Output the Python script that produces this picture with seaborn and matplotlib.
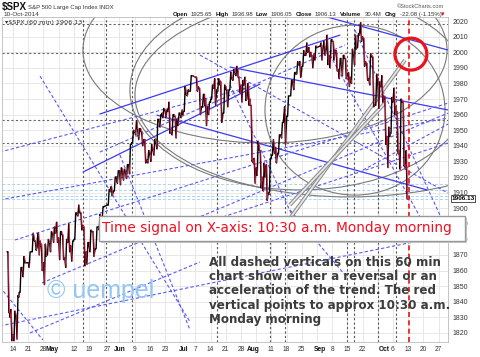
import datetime as dt
import matplotlib
matplotlib.use("Agg")
import matplotlib.pyplot as plt
import numpy as np
import pandas as pd
import seaborn as sns
from matplotlib.patches import Ellipse, Rectangle

sns.set_theme(style="white")
plt.rcParams['font.family'] = ['Liberation Sans', 'DejaVu Sans']

# ---------------- data (daily OHLC of $SPX) ----------------
dates = ["2014-04-10","2014-04-11","2014-04-14","2014-04-15","2014-04-16","2014-04-17",
 "2014-04-21","2014-04-22","2014-04-23","2014-04-24","2014-04-25","2014-04-28","2014-04-29",
 "2014-04-30","2014-05-01","2014-05-02","2014-05-05","2014-05-06","2014-05-07","2014-05-08",
 "2014-05-09","2014-05-12","2014-05-13","2014-05-14","2014-05-15","2014-05-16","2014-05-19",
 "2014-05-20","2014-05-21","2014-05-22","2014-05-23","2014-05-27","2014-05-28","2014-05-29",
 "2014-05-30","2014-06-02","2014-06-03","2014-06-04","2014-06-05","2014-06-06","2014-06-09",
 "2014-06-10","2014-06-11","2014-06-12","2014-06-13","2014-06-16","2014-06-17","2014-06-18",
 "2014-06-19","2014-06-20","2014-06-23","2014-06-24","2014-06-25","2014-06-26","2014-06-27",
 "2014-06-30","2014-07-01","2014-07-02","2014-07-03","2014-07-07","2014-07-08","2014-07-09",
 "2014-07-10","2014-07-11","2014-07-14","2014-07-15","2014-07-16","2014-07-17","2014-07-18",
 "2014-07-21","2014-07-22","2014-07-23","2014-07-24","2014-07-25","2014-07-28","2014-07-29",
 "2014-07-30","2014-07-31","2014-08-01","2014-08-04","2014-08-05","2014-08-06","2014-08-07",
 "2014-08-08","2014-08-11","2014-08-12","2014-08-13","2014-08-14","2014-08-15","2014-08-18",
 "2014-08-19","2014-08-20","2014-08-21","2014-08-22","2014-08-25","2014-08-26","2014-08-27",
 "2014-08-28","2014-08-29","2014-09-02","2014-09-03","2014-09-04","2014-09-05","2014-09-08",
 "2014-09-09","2014-09-10","2014-09-11","2014-09-12","2014-09-15","2014-09-16","2014-09-17",
 "2014-09-18","2014-09-19","2014-09-22","2014-09-23","2014-09-24","2014-09-25","2014-09-26",
 "2014-09-29","2014-09-30","2014-10-01","2014-10-02","2014-10-03","2014-10-06","2014-10-07",
 "2014-10-08","2014-10-09","2014-10-10"]
opens = [1872,1830,1819,1831,1846,1861,1865,1872,1879,1881,1876,1865,1870,1878,1884,1885,1880,
 1883,1868,1878,1875,1880,1896,1897,1888,1872,1876,1885,1874,1888,1893,1902,1911,1911,1920,
 1924,1923,1923,1928,1942,1949,1950,1949,1943,1931,1934,1937,1942,1957,1961,1963,1962,1949,
 1959,1957,1960,1962,1973,1975,1984,1977,1965,1966,1965,1970,1977,1976,1979,1961,1976,1976,
 1983,1988,1984,1979,1980,1973,1966,1929,1926,1937,1918,1923,1910,1934,1935,1935,1947,1958,
 1959,1972,1980,1986,1992,1991,1998,2001,1998,1999,2004,2004,2002,1998,2007,2000,1989,1992,
 1996,1986,1982,1999,2003,2013,2009,1993,1983,1997,1966,1978,1978,1971,1946,1948,1970,1962,
 1936,1968,1926]
highs = [1872,1835,1834,1844,1862,1869,1872,1884,1879,1884,1877,1877,1880,1885,1888,1891,1885,
 1883,1880,1890,1879,1897,1902,1897,1888,1878,1886,1885,1888,1896,1901,1912,1914,1920,1924,
 1926,1925,1928,1941,1950,1956,1951,1949,1944,1937,1941,1944,1957,1960,1964,1963,1968,1960,
 1959,1961,1963,1978,1976,1985,1984,1977,1973,1970,1968,1979,1983,1983,1981,1979,1976,1987,
 1989,1991,1984,1982,1984,1980,1966,1932,1943,1937,1929,1928,1932,1944,1939,1947,1955,1965,
 1972,1982,1987,1994,1994,2001,2006,2003,1998,2004,2006,2007,2011,2008,2007,2001,1996,1998,
 1996,1987,2002,2011,2012,2019,2009,1993,1999,1997,1986,1981,1985,1971,1952,1971,1977,1962,
 1970,1968,1937]
lows = [1833,1815,1815,1816,1846,1856,1862,1872,1873,1870,1860,1851,1870,1872,1878,1878,1867,
 1867,1862,1872,1866,1880,1895,1886,1863,1864,1872,1869,1874,1886,1893,1902,1908,1911,1916,
 1915,1918,1919,1922,1942,1947,1944,1940,1929,1929,1930,1934,1938,1952,1958,1958,1948,1947,
 1945,1953,1958,1962,1972,1975,1975,1960,1965,1953,1960,1970,1966,1975,1955,1961,1965,1976,
 1982,1985,1974,1968,1969,1966,1930,1916,1921,1913,1911,1905,1909,1934,1929,1935,1945,1941,
 1959,1972,1976,1986,1984,1991,1998,1997,1990,1995,1995,1998,1992,1990,1995,1988,1983,1985,
 1983,1978,1980,1992,2003,2007,1991,1982,1979,1965,1966,1964,1968,1941,1926,1948,1960,1935,
 1925,1927,1906]
closes = [1833,1816,1831,1843,1862,1865,1872,1880,1875,1879,1863,1869,1878,1884,1884,1881,1885,
 1868,1878,1876,1879,1897,1897,1889,1871,1878,1885,1873,1888,1893,1901,1912,1910,1920,1924,
 1925,1924,1928,1941,1949,1951,1951,1944,1930,1936,1938,1942,1957,1960,1963,1963,1950,1960,
 1957,1961,1960,1973,1975,1985,1978,1964,1973,1965,1968,1977,1973,1982,1958,1978,1974,1983,
 1987,1988,1978,1979,1970,1970,1931,1925,1939,1920,1920,1910,1932,1937,1934,1947,1955,1955,
 1972,1982,1987,1992,1988,1998,2000,2000,1997,2003,2002,2001,1998,2008,2001,1988,1996,1998,
 1985,1984,1999,2002,2011,2010,1994,1983,1998,1966,1983,1978,1972,1946,1946,1968,1965,1935,
 1969,1928,1906]
last_close = 1906.13

# x-axis tick labels (weekly / month starts)
tick_dates = ["2014-04-14","2014-04-21","2014-04-28","2014-05-01","2014-05-12","2014-05-19",
 "2014-05-27","2014-06-02","2014-06-09","2014-06-16","2014-06-23","2014-07-01","2014-07-07",
 "2014-07-14","2014-07-21","2014-07-28","2014-08-01","2014-08-11","2014-08-18","2014-08-25",
 "2014-09-02","2014-09-08","2014-09-15","2014-09-22","2014-10-01","2014-10-06","2014-10-13",
 "2014-10-20","2014-10-27"]
tick_labels = ["14","21","28","May","12","19","27","Jun","9","16","23","Jul","7","14","21","28",
 "Aug","11","18","25","Sep","8","15","22","Oct","6","13","20","27"]
price_ticks = list(range(1820, 2030, 10))

# annotations: dashed time verticals (week units from 14-Apr), horizontal levels
signal_weeks = [4.62, 6.15, 7.85, 13.42, 16.88, 17.87, 21.95, 22.42, 24.0, 25.18]
red_signal_week = 26.03
level_prices = [2018.1, 1999.5, 1956.5, 1941.8]
light_levels = [1915.5, 1911.8, 1907.9, 1906.1]

# trend lines: (week0, price0, week1, price1)
solid_lines = [(16.58, 2033.5, 28.62, 2001.4), (4.61, 1923.2, 16.25, 1979.6),
               (5.72, 1960.4, 21.51, 2011.0), (9.47, 1959.7, 27.24, 1911.7),
               (14.28, 1990.5, 28.62, 1963.0)]
dashed_lines = [(-0.86, 1936.0, 15.59, 1977.7), (5.72, 1936.0, 21.84, 2004.6),
                (-0.86, 1905.3, 28.62, 1957.8), (0.13, 1879.6, 28.62, 1967.4),
                (1.91, 1852.1, 28.62, 1961.0), (1.12, 1820.0, 12.30, 1865.5),
                (-0.86, 1824.5, 28.62, 1882.8), (13.82, 1894.4, 28.62, 1941.8),
                (23.03, 1924.5, 28.75, 1954.6),
                (1.78, 1984.7, 11.65, 1827.1), (-0.86, 1849.5, 1.97, 1815.5),
                (7.04, 1934.1, 11.65, 1821.9), (14.28, 1979.0, 18.42, 1894.4),
                (18.22, 1898.9, 21.84, 1857.2), (22.50, 2014.2, 28.09, 1895.6),
                (20.86, 1998.2, 26.78, 1894.4), (12.30, 1998.2, 28.62, 1909.7)]
double_lines = [(17.57, 1884.7, 25.79, 1995.0), (18.22, 1902.1, 24.47, 1967.4)]
# ellipses: (center week, center price, width weeks, height points)
ellipses = [(16.58, 2001.4, 23.95, 119.2), (18.88, 1975.8, 22.37, 128.2),
            (22.17, 1972.6, 28.29, 130.8), (22.5, 1962.9, 11.84, 109.0)]
red_circle = (26.18, 1998.8, 2.1, 20.5)

# ---------------- build intraday path ----------------
base = dt.date(2014, 4, 14)


def wk_of(s):
    day = dt.date.fromisoformat(s)
    off = (day - base).days
    return (off // 7) + day.weekday() * 0.2


xs, ps = [], []
for d, o, h, l, c in zip(dates, opens, highs, lows, closes):
    wk = wk_of(d)
    seq = [o, h, l, c] if c < o else [o, l, h, c]
    for f, v in zip([0.01, 0.07, 0.13, 0.19], seq):
        xs.append(wk + f)
        ps.append(v)
df = pd.DataFrame({"week": xs, "price": ps})

# ---------------- figure ----------------
W, H = 480, 357
fig = plt.figure(figsize=(W / 100, H / 100), dpi=100)
L, R, T, B = 2, 448, 17, 342
ax = fig.add_axes([L / W, 1 - B / H, (R - L) / W, (B - T) / H])
ax.set_xlim(-0.72, 28.62)
ax.set_ylim(1814.2, 2022.6)

# light grid
for w in range(0, 29):
    ax.axvline(w, color="#e4e4e4", lw=0.6, zorder=0)
for p in price_ticks:
    ax.axhline(p, color="#e4e4e4", lw=0.6, zorder=0)

# light-blue levels
for p in light_levels:
    ax.axhline(p, color="#a9d4f5", lw=0.7, ls=(0, (3, 2)), zorder=1)
# dark dashed levels / verticals
for p in level_prices:
    ax.axhline(p, color="#666666", lw=0.8, ls=(0, (2, 2)), zorder=1)
for w in signal_weeks:
    ax.axvline(w, color="#555555", lw=0.8, ls=(0, (2, 2)), zorder=1)

# ellipses
for cx, cy, ew, eh in ellipses:
    ax.add_patch(Ellipse((cx, cy), ew, eh, fill=False, ec="#7a7a7a", lw=0.8, zorder=2))

# trend lines
for x0, y0, x1, y1 in solid_lines:
    ax.plot([x0, x1], [y0, y1], color="#3b3bf0", lw=0.9, zorder=2)
for x0, y0, x1, y1 in dashed_lines:
    ax.plot([x0, x1], [y0, y1], color="#5a5af5", lw=0.8, ls=(0, (3, 2)), zorder=2)
for x0, y0, x1, y1 in double_lines:
    ax.plot([x0, x1], [y0, y1], color="#8c8c8c", lw=2.8, zorder=2, solid_capstyle="butt")
    ax.plot([x0, x1], [y0, y1], color="#e6e6e6", lw=1.3, zorder=2, solid_capstyle="butt")

# price
sns.lineplot(data=df, x="week", y="price", ax=ax, color="black", lw=1.0,
             sort=False, estimator=None, zorder=4)
rx, ry = [], []
for i in range(1, len(xs)):
    if ps[i] < ps[i - 1]:
        rx += [xs[i - 1] + 0.03, xs[i] + 0.03, np.nan]
        ry += [ps[i - 1], ps[i], np.nan]
ax.plot(rx, ry, color="#f0204a", lw=0.6, zorder=5)

# red signal
ax.axvline(red_signal_week, color="#ee1111", lw=1.2, ls=(0, (3, 2)), zorder=6)
cx, cy, ew, eh = red_circle
ax.add_patch(Ellipse((cx, cy), ew, eh, fill=False, ec="#e8141c", lw=2.3, zorder=7))

# axes styling
ax.set_xlabel("")
ax.set_ylabel("")
ax.yaxis.tick_right()
ax.set_yticks(price_ticks)
ax.set_yticklabels([str(p) for p in price_ticks], fontsize=5.0, color="#333333")
ax.set_xticks([wk_of(s) for s in tick_dates])
ax.set_xticklabels(tick_labels, fontsize=4.8, color="#333333")
for lbl, t in zip(ax.get_xticklabels(), tick_labels):
    if t.isalpha():
        lbl.set_fontweight("bold")
        lbl.set_color("#111111")
ax.tick_params(axis="both", length=0, pad=3)
for s in ax.spines.values():
    s.set_color("#bbbbbb")
    s.set_linewidth(0.6)

# price marker label on axis
ax.annotate(f"{last_close:.2f}", xy=(1.0, last_close), xycoords=("axes fraction", "data"),
            xytext=(2.5, 0), textcoords="offset points", fontsize=4.6, fontweight="bold",
            va="center", ha="left", color="black", annotation_clip=False, zorder=20,
            bbox=dict(boxstyle="square,pad=0.12", fc="white", ec="#333333", lw=0.6))

# ---------------- texts ----------------
def ftxt(x, y, s, **kw):
    fig.text(x / W, 1 - y / H, s, va="center", **kw)

ftxt(2, 7, "$SPX", fontsize=7, fontweight="bold", color="#111111")
ftxt(28, 7.5, "S&P 500 Large Cap Index INDX", fontsize=4.3, color="#333333")
ftxt(3, 14.5, "10-Oct-2014", fontsize=4.6, color="#333333")
ftxt(5, 22.5, "\u25BE$SPX (60 min) 1906.13", fontsize=4.6, color="#333333",
     family=["DejaVu Sans"])
ftxt(397, 7, "\u00A9StockCharts.com", fontsize=4.1, color="#555555")
hdr = [(173, "Open", True), (191, "1925.65", False), (216, "High", True), (232, "1936.98", False),
       (256, "Low", True), (271, "1906.05", False), (296, "Close", True), (315, "1906.13", False),
       (340, "Volume", True), (365, "30.4M", False), (385, "Chg", True),
       (400, "-22.08 (-1.15%)", False)]
for x, s, b in hdr:
    ftxt(x, 14.5, s, fontsize=4.3, fontweight="bold" if b else "normal",
         color="#111111" if b else "#333333")
ftxt(441, 14.5, "\u25BE", fontsize=5.0, color="#dd1111", family=["DejaVu Sans"])

# signal box with soft shadow
fig.patches.append(Rectangle((101 / W, 1 - 243 / H), 366 / W, 25 / H, transform=fig.transFigure,
                             fc="#c8c8c8", ec="none", zorder=9))
fig.patches.append(Rectangle((99 / W, 1 - 241 / H), 366 / W, 25 / H, transform=fig.transFigure,
                             fc="white", ec="#999999", lw=1.0, zorder=10))
ftxt(102, 228.5, "Time signal on X-axis: 10:30 a.m. Monday morning", fontsize=9.9,
     color="#ee1122", zorder=11, family=["DejaVu Sans"])

para = ["All dashed verticals on this 60 min", "chart show either a reversal or an",
        "acceleration of the trend. The red", "vertical points to approx 10:30 a.m.",
        "Monday morning"]
for i, line in enumerate(para):
    ftxt(209, 262 + i * 14.4, line, fontsize=8.6, fontweight="bold", color="#3c3c3c",
         zorder=11, family=["DejaVu Sans"])

ftxt(47, 291, "\u00A9 uempel", fontsize=18, color="#93c6f2", zorder=3)

fig.savefig("out.png", dpi=100)
